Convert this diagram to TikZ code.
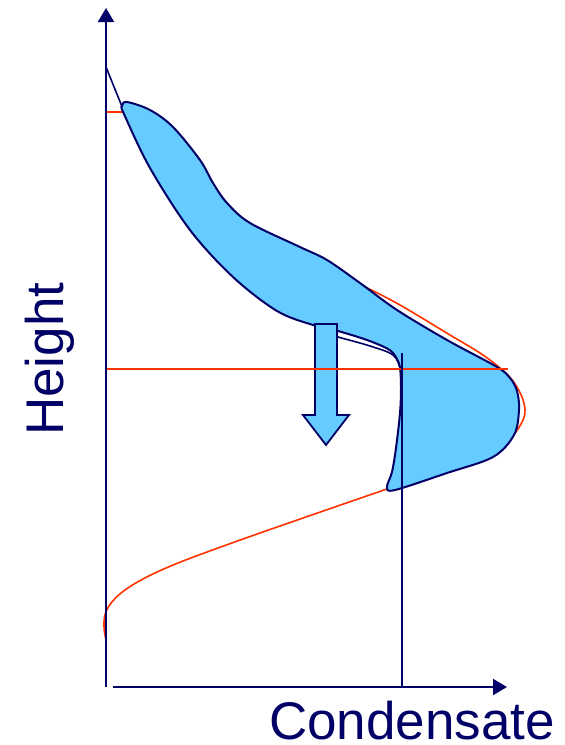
\documentclass[tikz,border=0pt]{standalone}
\usepackage{fontspec}
\setmainfont{Liberation Sans}
\usetikzlibrary{arrows.meta}
\definecolor{navy}{HTML}{000066}
\definecolor{lblue}{HTML}{66CCFF}
\definecolor{redl}{HTML}{FF3300}
\tikzset{
  axis/.style={draw=navy,line width=2pt,-{Triangle[length=14pt,width=16pt]}},
  redcurve/.style={draw=redl,line width=1.6pt},
  navyline/.style={draw=navy,line width=1.6pt},
  blob/.style={fill=lblue,draw=navy,line width=2pt,line join=round},
  lbl/.style={text=navy,font=\fontsize{53}{60}\selectfont,inner sep=0pt,text depth=0pt}
}
\begin{document}
\begin{tikzpicture}[x=1pt,y=-1pt]
\useasboundingbox (0,0) rectangle (565,745);
% red profile (behind the blob)
\draw[redcurve] (106,112) -- (124,112);
\draw[redcurve] plot[smooth,tension=0.6] coordinates {(356,285) (363,286) (400,305) (450,335) (480,353) (500,368) (513,381) (522,397) (525,410) (523,420) (515,433) (505,442)};
\draw[redcurve] (395,486) -- (387,489) .. controls (300,519) and (230,543) .. (183,561)
  .. controls (135,580) and (104,598) .. (104,622) .. controls (104,630) .. (106,640);
% navy condensate profile
\draw[navyline] (106,67) -- (125,114);
\draw[navyline] plot[smooth,tension=0.6] coordinates {(318,331) (338,337) (370,346) (393,355) (400,368)};
% blob
\path[blob] plot[smooth cycle,tension=0.55] coordinates {
 (122,106) (127,102) (150,110) (173,127) (200,160) (213,183) (227,203) (250,223)
 (300,247) (327,260) (360,283) (397,310) (447,340) (497,367) (510,378) (517,391)
 (519,410) (514,435) (493,457) (447,473) (395,490) (387,487) (392,472) (396,448)
 (400,413) (401,388) (400,368) (396,357) (388,349) (367,340) (338,331) (313,325)
 (277,311) (233,277) (190,230) (150,168) (124,114)};
% block arrow
\path[blob,line width=1.8pt,line join=miter] (315,324) -- (337,324) -- (337,415) -- (349,415) -- (326,445) -- (303,415) -- (315,415) -- cycle;
% red horizontal line and vertical line
\draw[redcurve] (106,369) -- (508,369);
\draw[navyline] (402,353) -- (402,687);
% axes
\draw[axis] (106,687) -- (106,8);
\draw[axis] (113,687) -- (507,687);
% labels
\node[lbl,anchor=base west] (cond) at (269,739.5) {Condensate};
\node[lbl,rotate=90,anchor=base west] (height) at (63,436) {Height};
\end{tikzpicture}
\end{document}
